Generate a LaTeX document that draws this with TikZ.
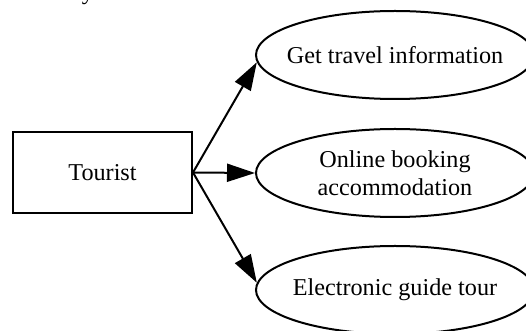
\documentclass[tikz,border=0pt]{standalone}
\usepackage{fontspec}
\setmainfont{Liberation Serif}
\usetikzlibrary{arrows.meta, shapes.geometric}

\tikzset{
  actorbox/.style={draw, line width=1pt, minimum width=89.5pt, minimum height=40.5pt, inner sep=0pt},
  usecase/.style={draw, ellipse, line width=1pt, minimum width=139pt, minimum height=44pt, inner sep=0pt},
  casetext/.style={align=center, inner sep=0pt}
}
\tikzset{flow/.style={line width=1pt, -{Triangle[length=14pt, width=9pt]}}}

\begin{document}
\begin{tikzpicture}[x=0.5pt, y=-0.5pt, font=\fontsize{12.1}{14.2}\selectfont]
  \useasboundingbox (0,0) rectangle (526,331);

  % cut-off caption line above
  \node[anchor=base, inner sep=0pt] (caption) at (88,0) {y};

  \node[actorbox] (tourist) at (102.5,172.5) {Tourist};

  \node[usecase, label={[casetext]center:Get travel information}] (info) at (395,55) {};
  \node[usecase, label={[casetext]center:Online booking\\accommodation}] (booking) at (395,173) {};
  \node[usecase, label={[casetext]center:Electronic guide tour}] (guide) at (395,290) {};

  \draw[flow] (tourist.east) -- (info.183);
  \draw[flow] (tourist.east) -- (booking.west);
  \draw[flow] (tourist.east) -- (guide.177);
\end{tikzpicture}
\end{document}
